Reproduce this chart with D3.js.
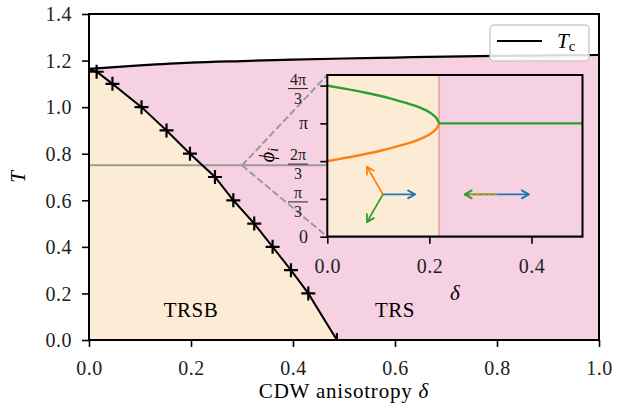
<!DOCTYPE html>
<html>
<head>
<meta charset="utf-8">
<script src="https://cdn.jsdelivr.net/npm/d3@7"></script>
<style>
  body { margin: 0; background: #fff; }
  svg { font-family: "Liberation Serif", "DejaVu Serif", serif; }
</style>
</head>
<body>
<svg id="chart" width="625" height="409"></svg>
<script>
// Critical temperature curve T_c(delta)
var tcDelta = [0, 0.05, 0.1, 0.2, 0.3, 0.4, 0.5, 0.6, 0.7, 0.8, 0.9, 1.0];
var tcT = [1.164, 1.172, 1.179, 1.191, 1.198, 1.204, 1.209, 1.213, 1.217, 1.220, 1.222, 1.224];

// TRSB / TRS boundary (line) and the computed points (+ markers)
var bndDelta = [0.0, 0.015, 0.046, 0.103, 0.152, 0.198, 0.247, 0.283, 0.324, 0.36, 0.396, 0.43, 0.486];
var bndT = [1.163, 1.152, 1.1, 1.0, 0.9, 0.8, 0.7, 0.6, 0.5, 0.4, 0.3, 0.2, 0.0];
var markDelta = [0.015, 0.046, 0.103, 0.152, 0.198, 0.247, 0.283, 0.324, 0.36, 0.396, 0.43, 0.486];
var markT = [1.152, 1.1, 1.0, 0.9, 0.8, 0.7, 0.6, 0.5, 0.4, 0.3, 0.2, 0.0];

// inset: phases phi_i (in units of pi/3) vs delta at T = 0.75
var cutT = 0.75, cutDelta = 0.3;
var deltaC = 0.219;
var phiDelta = [0, 0.025, 0.05, 0.075, 0.1, 0.125, 0.15, 0.17, 0.19, 0.2, 0.21, 0.215, 0.219];
var phiGreen = [4.0, 3.94, 3.88, 3.81, 3.74, 3.66, 3.56, 3.48, 3.37, 3.3, 3.2, 3.13, 3.0];
var phiOrange = [2.0, 2.06, 2.12, 2.19, 2.26, 2.34, 2.44, 2.52, 2.63, 2.7, 2.8, 2.87, 3.0];
var phiTrsDelta = [0.219, 0.5];
var phiTrs = [3.0, 3.0];
var phiBlueDelta = [0, 0.5];
var phiBlue = [0, 0];

var mainXTicks = [0, 0.2, 0.4, 0.6, 0.8, 1.0];
var mainYTicks = [0, 0.2, 0.4, 0.6, 0.8, 1.0, 1.2, 1.4];
var insetXTicks = [0, 0.2, 0.4];
var insetYTicks = [0, 1, 2, 3, 4];
var insetYLabels = [["0"], ["π", "3"], ["2π", "3"], ["π"], ["4π", "3"]];

// arrows sketching the three phases (angle in degrees)
var arrowGroups = [
  {delta: 0.109, phi: 1.12, arrows: [[0, "#1f77b4"], [120, "#ff7f0e"], [240, "#2ca02c"]]},
  {delta: 0.332, phi: 1.12, arrows: [[0, "#1f77b4"], [180, "mixed"]]}
];

var pink = "#f6d1e2", beige = "#fcecd6";
var tickFont = 20;

var svg = d3.select("#chart");

var x = d3.scaleLinear().domain([0, 1]).range([89, 599]);
var y = d3.scaleLinear().domain([0, 1.4]).range([340, 14]);

var defs = svg.append("defs");
defs.append("clipPath").attr("id", "mainClip").append("rect")
  .attr("x", 89).attr("y", 14).attr("width", 510).attr("height", 326);

var main = svg.append("g");
var plot = main.append("g").attr("clip-path", "url(#mainClip)");

var tcPts = tcDelta.map(function(d, i) { return [d, tcT[i]]; });
var bndPts = bndDelta.map(function(d, i) { return [d, bndT[i]]; });

// pink region under T_c
plot.append("path")
  .attr("d", d3.area().x(function(d) { return x(d[0]); })
    .y0(y(0)).y1(function(d) { return y(d[1]); })
    .curve(d3.curveMonotoneX)(tcPts))
  .attr("fill", pink);

// beige TRSB region
plot.append("path")
  .attr("d", d3.area().x(function(d) { return x(d[0]); })
    .y0(y(0)).y1(function(d) { return y(d[1]); })(
      [[0, tcT[0]]].concat(bndPts)))
  .attr("fill", beige);

// inset geometry
var ix = d3.scaleLinear().domain([0, 0.5]).range([327.3, 582.5]);
var iy = d3.scaleLinear().domain([0, 4.28]).range([236.7, 75]);

// cut indicator
plot.append("line")
  .attr("x1", x(0)).attr("x2", ix(0))
  .attr("y1", y(cutT)).attr("y2", y(cutT))
  .attr("stroke", "#9a9a9a").attr("stroke-width", 2);
[iy.range()[1], iy.range()[0]].forEach(function(py) {
  plot.append("line")
    .attr("x1", x(cutDelta)).attr("y1", y(cutT))
    .attr("x2", ix(0)).attr("y2", py)
    .attr("stroke", "#9a9a9a").attr("stroke-width", 2)
    .attr("stroke-dasharray", "7,3");
});

// boundary line and markers
plot.append("path")
  .attr("d", d3.line().x(function(d) { return x(d[0]); }).y(function(d) { return y(d[1]); })(bndPts))
  .attr("fill", "none").attr("stroke", "#000").attr("stroke-width", 2);

plot.selectAll(".mark").data(markDelta).enter().append("path")
  .attr("class", "mark")
  .attr("transform", function(d, i) { return "translate(" + x(d) + "," + y(markT[i]) + ")"; })
  .attr("d", "M-7,0H7M0,-7V7")
  .attr("stroke", "#000").attr("stroke-width", 2.2);

// T_c line
plot.append("path")
  .attr("d", d3.line().x(function(d) { return x(d[0]); }).y(function(d) { return y(d[1]); })
    .curve(d3.curveMonotoneX)(tcPts))
  .attr("fill", "none").attr("stroke", "#000").attr("stroke-width", 2.2);

// phase labels
main.append("text").attr("x", x(0.2)).attr("y", y(0.1))
  .attr("text-anchor", "middle").attr("font-size", 21).attr("letter-spacing", 0.5).text("TRSB");
main.append("text").attr("x", x(0.6)).attr("y", y(0.1))
  .attr("text-anchor", "middle").attr("font-size", 21).attr("letter-spacing", 0.5).text("TRS");

// main axes
var gx = main.append("g").attr("transform", "translate(0,340)")
  .call(d3.axisBottom(x).tickValues(mainXTicks).tickFormat(d3.format(".1f")).tickSizeOuter(0).tickSize(7).tickPadding(6));
var gy = main.append("g").attr("transform", "translate(89,0)")
  .call(d3.axisLeft(y).tickValues(mainYTicks).tickFormat(d3.format(".1f")).tickSizeOuter(0).tickSize(7).tickPadding(10));
[gx, gy].forEach(function(g) {
  g.select(".domain").remove();
  g.selectAll(".tick line").attr("stroke", "#000").attr("stroke-width", 1.6);
  g.selectAll(".tick text").attr("font-size", tickFont).attr("fill", "#222")
    .attr("font-family", "Liberation Serif").attr("letter-spacing", 0.5);
});
gx.selectAll(".tick text").attr("y", 35).attr("dy", null);
gy.selectAll(".tick text").attr("dy", "0.34em");
main.append("rect").attr("x", 89).attr("y", 14).attr("width", 510).attr("height", 326)
  .attr("fill", "none").attr("stroke", "#000").attr("stroke-width", 2);

main.append("text").attr("x", 344).attr("y", 398).attr("text-anchor", "middle")
  .attr("font-size", 21).attr("letter-spacing", 0.8)
  .html('CDW anisotropy <tspan font-style="italic">δ</tspan>');
main.append("text").attr("transform", "translate(25,177) rotate(-90)")
  .attr("text-anchor", "middle").attr("font-size", 21).attr("font-style", "italic").text("T");

// legend
var leg = main.append("g");
leg.append("rect").attr("x", 490).attr("y", 25).attr("width", 99).attr("height", 36).attr("rx", 4)
  .attr("fill", "#fff").attr("fill-opacity", 0.85).attr("stroke", "#cccccc").attr("stroke-width", 1.5);
leg.append("line").attr("x1", 497).attr("x2", 542).attr("y1", 41).attr("y2", 41)
  .attr("stroke", "#000").attr("stroke-width", 2);
leg.append("text").attr("x", 557).attr("y", 48).attr("font-size", 21)
  .html('<tspan font-style="italic">T</tspan><tspan font-size="15" dy="3">c</tspan>');

// ---------------- inset ----------------
var inset = svg.append("g");
defs.append("clipPath").attr("id", "insetClip").append("rect")
  .attr("x", ix(0)).attr("y", iy(4.28)).attr("width", ix(0.5) - ix(0)).attr("height", iy(0) - iy(4.28));
var ip = inset.append("g").attr("clip-path", "url(#insetClip)");

ip.append("rect").attr("x", ix(0)).attr("y", iy(4.28))
  .attr("width", ix(deltaC) - ix(0)).attr("height", iy(0) - iy(4.28)).attr("fill", beige);
ip.append("rect").attr("x", ix(deltaC)).attr("y", iy(4.28))
  .attr("width", ix(0.5) - ix(deltaC)).attr("height", iy(0) - iy(4.28)).attr("fill", pink);
ip.append("line").attr("x1", ix(deltaC)).attr("x2", ix(deltaC))
  .attr("y1", iy(0)).attr("y2", iy(4.28))
  .attr("stroke", "#f1a7b1").attr("stroke-width", 2);

var iline = d3.line().x(function(d) { return ix(d[0]); }).y(function(d) { return iy(d[1]); });
function series(xs, ys) { return xs.map(function(d, i) { return [d, ys[i]]; }); }

ip.append("path").attr("d", iline.curve(d3.curveBasis)(series(phiDelta, phiOrange)))
  .attr("fill", "none").attr("stroke", "#ff7f0e").attr("stroke-width", 2.4);
ip.append("path").attr("d", iline.curve(d3.curveBasis)(series(phiDelta, phiGreen)))
  .attr("fill", "none").attr("stroke", "#2ca02c").attr("stroke-width", 2.4);
iline.curve(d3.curveLinear);
ip.append("path").attr("d", iline(series(phiTrsDelta, phiTrs)))
  .attr("fill", "none").attr("stroke", "#2ca02c").attr("stroke-width", 2.4);
ip.append("path").attr("d", iline(series(phiBlueDelta, phiBlue)))
  .attr("fill", "none").attr("stroke", "#1f77b4").attr("stroke-width", 2.4);

// phase arrows
var arrowLen = 32, headLen = 8;
arrowGroups.forEach(function(grp) {
  var cx = ix(grp.delta), cy = iy(grp.phi);
  grp.arrows.forEach(function(a) {
    var ang = a[0] * Math.PI / 180;
    var ex = cx + arrowLen * Math.cos(ang), ey = cy - arrowLen * Math.sin(ang);
    var mixed = a[1] === "mixed";
    if (mixed) {
      ip.append("line").attr("x1", cx).attr("y1", cy).attr("x2", ex).attr("y2", ey)
        .attr("stroke", "#2ca02c").attr("stroke-width", 1.8);
      ip.append("line").attr("x1", cx).attr("y1", cy).attr("x2", ex).attr("y2", ey)
        .attr("stroke", "#ff7f0e").attr("stroke-width", 1.8).attr("stroke-dasharray", "3,3");
    } else {
      ip.append("line").attr("x1", cx).attr("y1", cy).attr("x2", ex).attr("y2", ey)
        .attr("stroke", a[1]).attr("stroke-width", 1.8);
    }
    var hc = mixed ? "#2ca02c" : a[1];
    [150, -150].forEach(function(off) {
      var b = ang + off * Math.PI / 180;
      ip.append("line").attr("x1", ex).attr("y1", ey)
        .attr("x2", ex + headLen * Math.cos(b)).attr("y2", ey - headLen * Math.sin(b))
        .attr("stroke", hc).attr("stroke-width", 1.8).attr("stroke-linecap", "round");
    });
  });
});

inset.append("rect").attr("x", ix(0)).attr("y", iy(4.28))
  .attr("width", ix(0.5) - ix(0)).attr("height", iy(0) - iy(4.28))
  .attr("fill", "none").attr("stroke", "#000").attr("stroke-width", 2);

var igx = inset.append("g").attr("transform", "translate(0," + iy(0) + ")")
  .call(d3.axisBottom(ix).tickValues(insetXTicks).tickFormat(d3.format(".1f")).tickSize(7).tickPadding(6));
var igy = inset.append("g").attr("transform", "translate(" + ix(0) + ",0)")
  .call(d3.axisLeft(iy).tickValues(insetYTicks).tickFormat("").tickSize(7));
[igx, igy].forEach(function(g) {
  g.select(".domain").remove();
  g.selectAll(".tick line").attr("stroke", "#000").attr("stroke-width", 1.6);
});
igx.selectAll(".tick text").attr("font-size", tickFont).attr("fill", "#222")
  .attr("font-family", "Liberation Serif").attr("letter-spacing", 0.5)
  .attr("y", 36).attr("dy", null);

// fraction tick labels for phi axis
insetYTicks.forEach(function(t, i) {
  var lab = insetYLabels[i], ty = iy(t);
  var g = inset.append("g").attr("fill", "#222");
  if (lab.length === 1) {
    g.append("text").attr("x", 308).attr("y", ty + 6).attr("font-size", 18)
      .attr("text-anchor", "end").text(lab[0]);
  } else {
    g.append("text").attr("x", 298).attr("y", ty - 1).attr("font-size", 16)
      .attr("text-anchor", "middle").text(lab[0]);
    g.append("line").attr("x1", 288).attr("x2", 308).attr("y1", ty + 3).attr("y2", ty + 3)
      .attr("stroke", "#222").attr("stroke-width", 1);
    g.append("text").attr("x", 298).attr("y", ty + 18).attr("font-size", 16)
      .attr("text-anchor", "middle").text(lab[1]);
  }
});

inset.append("text").attr("x", 455).attr("y", 300).attr("text-anchor", "middle")
  .attr("font-size", 21).attr("font-style", "italic").text("δ");
inset.append("text").attr("transform", "translate(274,155) rotate(-90)")
  .attr("text-anchor", "middle").attr("font-size", 20)
  .html('<tspan font-style="italic">ϕ</tspan><tspan font-style="italic" font-size="14" dy="4">i</tspan>');
</script>
</body>
</html>
